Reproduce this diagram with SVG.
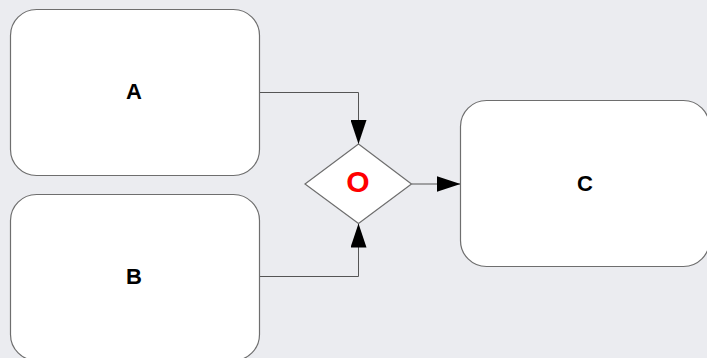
<svg xmlns="http://www.w3.org/2000/svg" width="707" height="358" viewBox="0 0 707 358">
  <style>
    .box { fill: #ffffff; stroke: #6e6e6e; stroke-width: 1.2; }
    .label { font-family: "Liberation Sans", Arial, sans-serif; font-weight: bold; font-size: 22px; fill: #000000; text-anchor: middle; }
    .gate { font-family: "Liberation Sans", Arial, sans-serif; font-weight: bold; font-size: 30px; fill: #ff0000; text-anchor: middle; }
    .wire { fill: none; stroke: #555555; stroke-width: 1; }
  </style>
  <defs>
    <marker id="arrow" viewBox="0 0 24 16" refX="24" refY="8" markerWidth="24" markerHeight="16" markerUnits="userSpaceOnUse" orient="auto">
      <path d="M0,0 L24,8 L0,16 Z" fill="#000000"/>
    </marker>
  </defs>
  <rect width="707" height="358" fill="#ebecf0"/>

  <g id="connectors">
    <path class="wire" d="M260,92.5 H358.5 V144" marker-end="url(#arrow)"/>
    <path class="wire" d="M260,276.5 H358.5 V223.5" marker-end="url(#arrow)"/>
    <path class="wire" d="M411.5,184 H460.5" marker-end="url(#arrow)"/>
  </g>

  <g id="node-a">
    <rect class="box" x="10.5" y="9.5" width="249" height="166" rx="26" ry="26"/>
    <text class="label" x="134" y="99">A</text>
  </g>
  <g id="node-b">
    <rect class="box" x="10.5" y="194.5" width="249" height="166" rx="26" ry="26"/>
    <text class="label" x="134" y="284">B</text>
  </g>
  <g id="node-c">
    <rect class="box" x="460.5" y="100.5" width="249" height="166" rx="26" ry="26"/>
    <text class="label" x="585" y="191">C</text>
  </g>
  <g id="node-or">
    <path class="box" d="M358.5,144 L411.5,184 L358.5,223.5 L305,184 Z"/>
    <text class="gate" x="358" y="192">O</text>
  </g>
</svg>
